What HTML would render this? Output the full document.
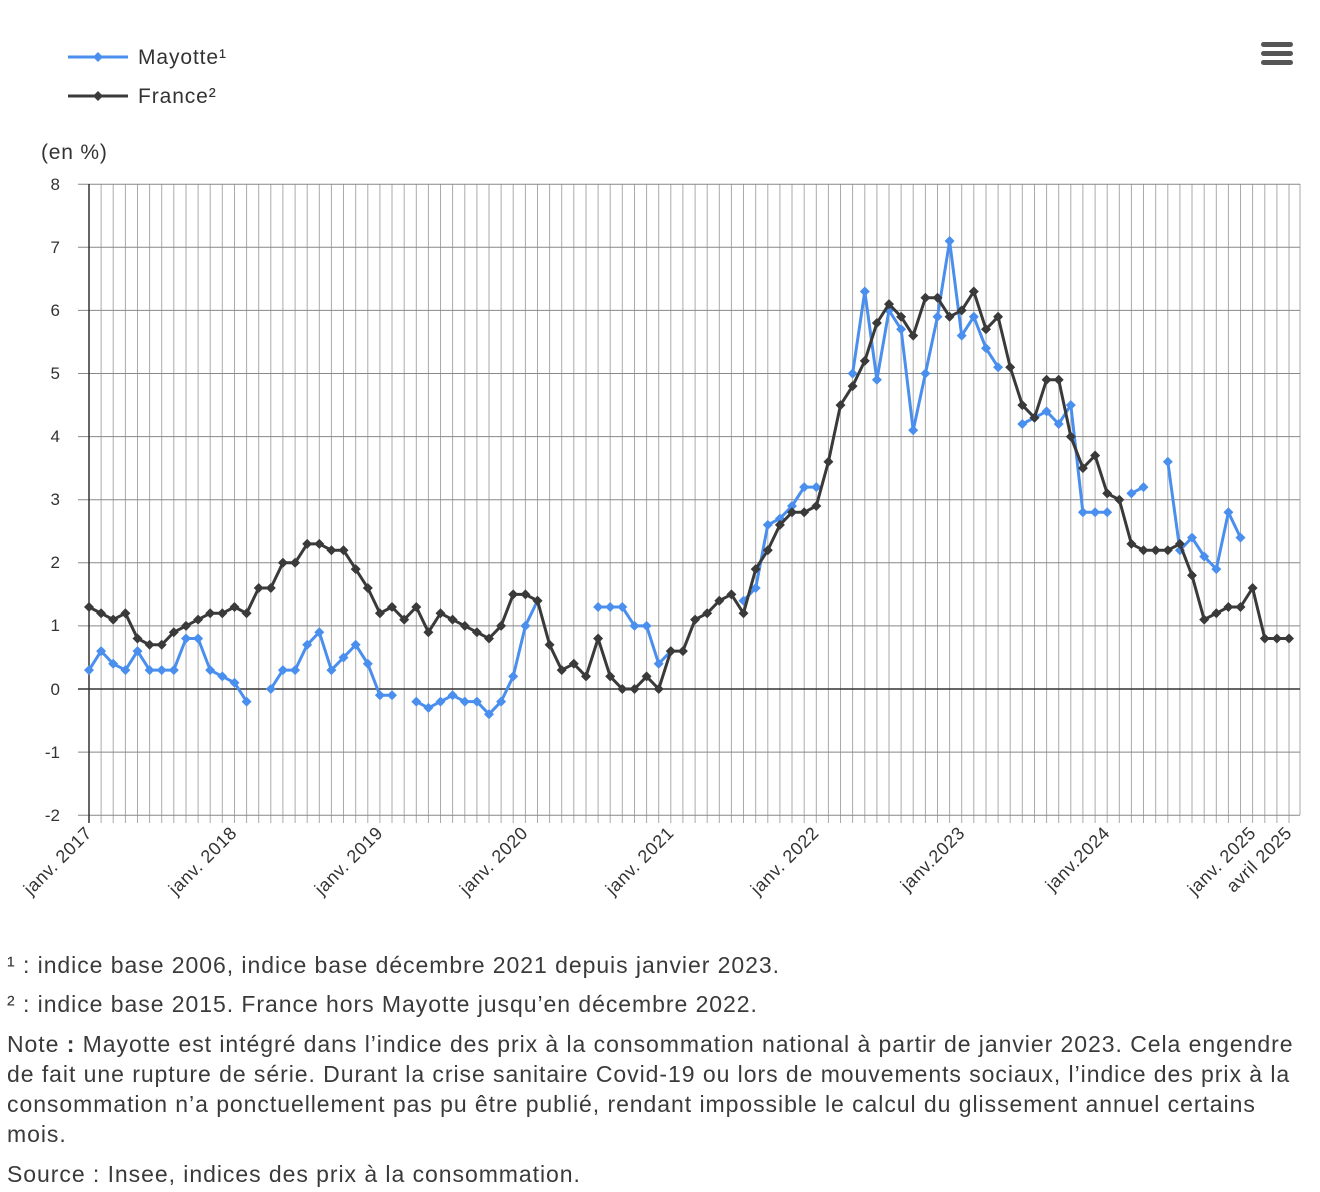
<!DOCTYPE html>
<html><head><meta charset="utf-8"><style>
body{margin:0;background:#fff;width:1320px;height:1192px;overflow:hidden;font-family:"Liberation Sans",sans-serif;color:#333}
.fn{position:absolute;left:7px;font-size:23px;letter-spacing:0.95px;line-height:30px;color:#3a3a3a;width:1312px}
</style></head><body>
<svg id="c" width="1320" height="950" style="position:absolute;left:0;top:0" font-family="Liberation Sans, sans-serif">
<g id="grid"></g>
<g id="series"></g>
<g fill="#333" font-size="17" text-anchor="end">
<text x="60" y="190">8</text><text x="60" y="253">7</text><text x="60" y="316">6</text><text x="60" y="379">5</text><text x="60" y="442">4</text><text x="60" y="505">3</text><text x="60" y="568">2</text><text x="60" y="631">1</text><text x="60" y="695">0</text><text x="60" y="758">-1</text><text x="60" y="821">-2</text>
</g>
<text x="41" y="159" font-size="21" letter-spacing="0.8" fill="#333">(en %)</text>
<g fill="#333" font-size="18" letter-spacing="0.6" text-anchor="end">
<text transform="translate(93,834) rotate(-45)">janv. 2017</text>
<text transform="translate(238,834) rotate(-45)">janv. 2018</text>
<text transform="translate(384,834) rotate(-45)">janv. 2019</text>
<text transform="translate(529,834) rotate(-45)">janv. 2020</text>
<text transform="translate(675,834) rotate(-45)">janv. 2021</text>
<text transform="translate(820,834) rotate(-45)">janv. 2022</text>
<text transform="translate(966,834) rotate(-45)">janv.2023</text>
<text transform="translate(1111,834) rotate(-45)">janv.2024</text>
<text transform="translate(1257,834) rotate(-45)">janv. 2025</text>
<text transform="translate(1293,834) rotate(-45)">avril 2025</text>
</g>
<line x1="68" y1="57" x2="128" y2="57" stroke="#4a8fee" stroke-width="3"/>
<path d="M98 52l5 5-5 5-5-5z" fill="#4a8fee"/>
<text x="138" y="64" font-size="21" letter-spacing="0.9" fill="#333">Mayotte¹</text>
<line x1="68" y1="96" x2="128" y2="96" stroke="#3a3a3a" stroke-width="3"/>
<path d="M98 91l5 5-5 5-5-5z" fill="#3a3a3a"/>
<text x="138" y="103" font-size="21" letter-spacing="0.9" fill="#333">France²</text>
<g fill="#555"><rect x="1261" y="42" width="32" height="5" rx="2.5"/><rect x="1261" y="51" width="32" height="5" rx="2.5"/><rect x="1261" y="60" width="32" height="5" rx="2.5"/></g>
</svg>
<div class="fn" style="top:950px">¹ : indice base 2006, indice base décembre 2021 depuis janvier 2023.</div>
<div class="fn" style="top:989px">² : indice base 2015. France hors Mayotte jusqu’en décembre 2022.</div>
<div class="fn" style="top:1029px">Note <b>:</b> Mayotte est intégré dans l’indice des prix à la consommation national à partir de janvier 2023. Cela engendre de fait une rupture de série. Durant la crise sanitaire Covid-19 ou lors de mouvements sociaux, l’indice des prix à la consommation n’a ponctuellement pas pu être publié, rendant impossible le calcul du glissement annuel certains mois.</div>
<div class="fn" style="top:1159px">Source : Insee, indices des prix à la consommation.</div>
<script>
var N=null;
var fr=[1.3,1.2,1.1,1.2,0.8,0.7,0.7,0.9,1.0,1.1,1.2,1.2,
1.3,1.2,1.6,1.6,2.0,2.0,2.3,2.3,2.2,2.2,1.9,1.6,
1.2,1.3,1.1,1.3,0.9,1.2,1.1,1.0,0.9,0.8,1.0,1.5,
1.5,1.4,0.7,0.3,0.4,0.2,0.8,0.2,0,0,0.2,0,
0.6,0.6,1.1,1.2,1.4,1.5,1.2,1.9,2.2,2.6,2.8,2.8,
2.9,3.6,4.5,4.8,5.2,5.8,6.1,5.9,5.6,6.2,6.2,5.9,
6.0,6.3,5.7,5.9,5.1,4.5,4.3,4.9,4.9,4.0,3.5,3.7,
3.1,3.0,2.3,2.2,2.2,2.2,2.3,1.8,1.1,1.2,1.3,1.3,
1.6,0.8,0.8,0.8];
var ma=[0.3,0.6,0.4,0.3,0.6,0.3,0.3,0.3,0.8,0.8,0.3,0.2,
0.1,-0.2,N,0,0.3,0.3,0.7,0.9,0.3,0.5,0.7,0.4,
-0.1,-0.1,N,-0.2,-0.3,-0.2,-0.1,-0.2,-0.2,-0.4,-0.2,0.2,
1.0,1.4,N,N,N,N,1.3,1.3,1.3,1.0,1.0,0.4,
0.6,N,N,N,N,N,1.4,1.6,2.6,2.7,2.9,3.2,
3.2,N,N,5.0,6.3,4.9,6.0,5.7,4.1,5.0,5.9,7.1,
5.6,5.9,5.4,5.1,N,4.2,4.3,4.4,4.2,4.5,2.8,2.8,
2.8,N,3.1,3.2,N,3.6,2.2,2.4,2.1,1.9,2.8,2.4];
function X(i){return 89+i*1200/99}
function Y(v){return 689-v*63.1}
var g='';
for(var i=0;i<100;i++){var x=X(i).toFixed(1);g+='<line x1="'+x+'" y1="184" x2="'+x+'" y2="823" stroke="#aaa" stroke-width="1"/>';}
g+='<line x1="1300" y1="184" x2="1300" y2="815" stroke="#aaa"/>';
for(var v=-2;v<=8;v++){var y=Y(v).toFixed(1);g+='<line x1="78" y1="'+y+'" x2="1300" y2="'+y+'" stroke="'+(v==0?'#333':'#888')+'" stroke-width="'+(v==0?1.5:1)+'"/>';}
g+='<line x1="89" y1="184" x2="89" y2="823" stroke="#333" stroke-width="1.5"/>';
document.getElementById('grid').innerHTML=g;
function ser(d,c){var s='',seg=[];function flush(){if(seg.length>1)s+='<polyline points="'+seg.join(' ')+'" fill="none" stroke="'+c+'" stroke-width="3" stroke-linejoin="round"/>';seg=[];}
for(var i=0;i<d.length;i++){if(d[i]===null){flush();continue;}seg.push(X(i).toFixed(1)+','+Y(d[i]).toFixed(1));}flush();
for(var i=0;i<d.length;i++){if(d[i]===null)continue;var x=X(i),y=Y(d[i]);s+='<path d="M'+x.toFixed(1)+' '+(y-5).toFixed(1)+'l5 5-5 5-5-5z" fill="'+c+'"/>';}
return s;}
document.getElementById('series').innerHTML=ser(ma,'#4a8fee')+ser(fr,'#3a3a3a');
</script>
</body></html>
